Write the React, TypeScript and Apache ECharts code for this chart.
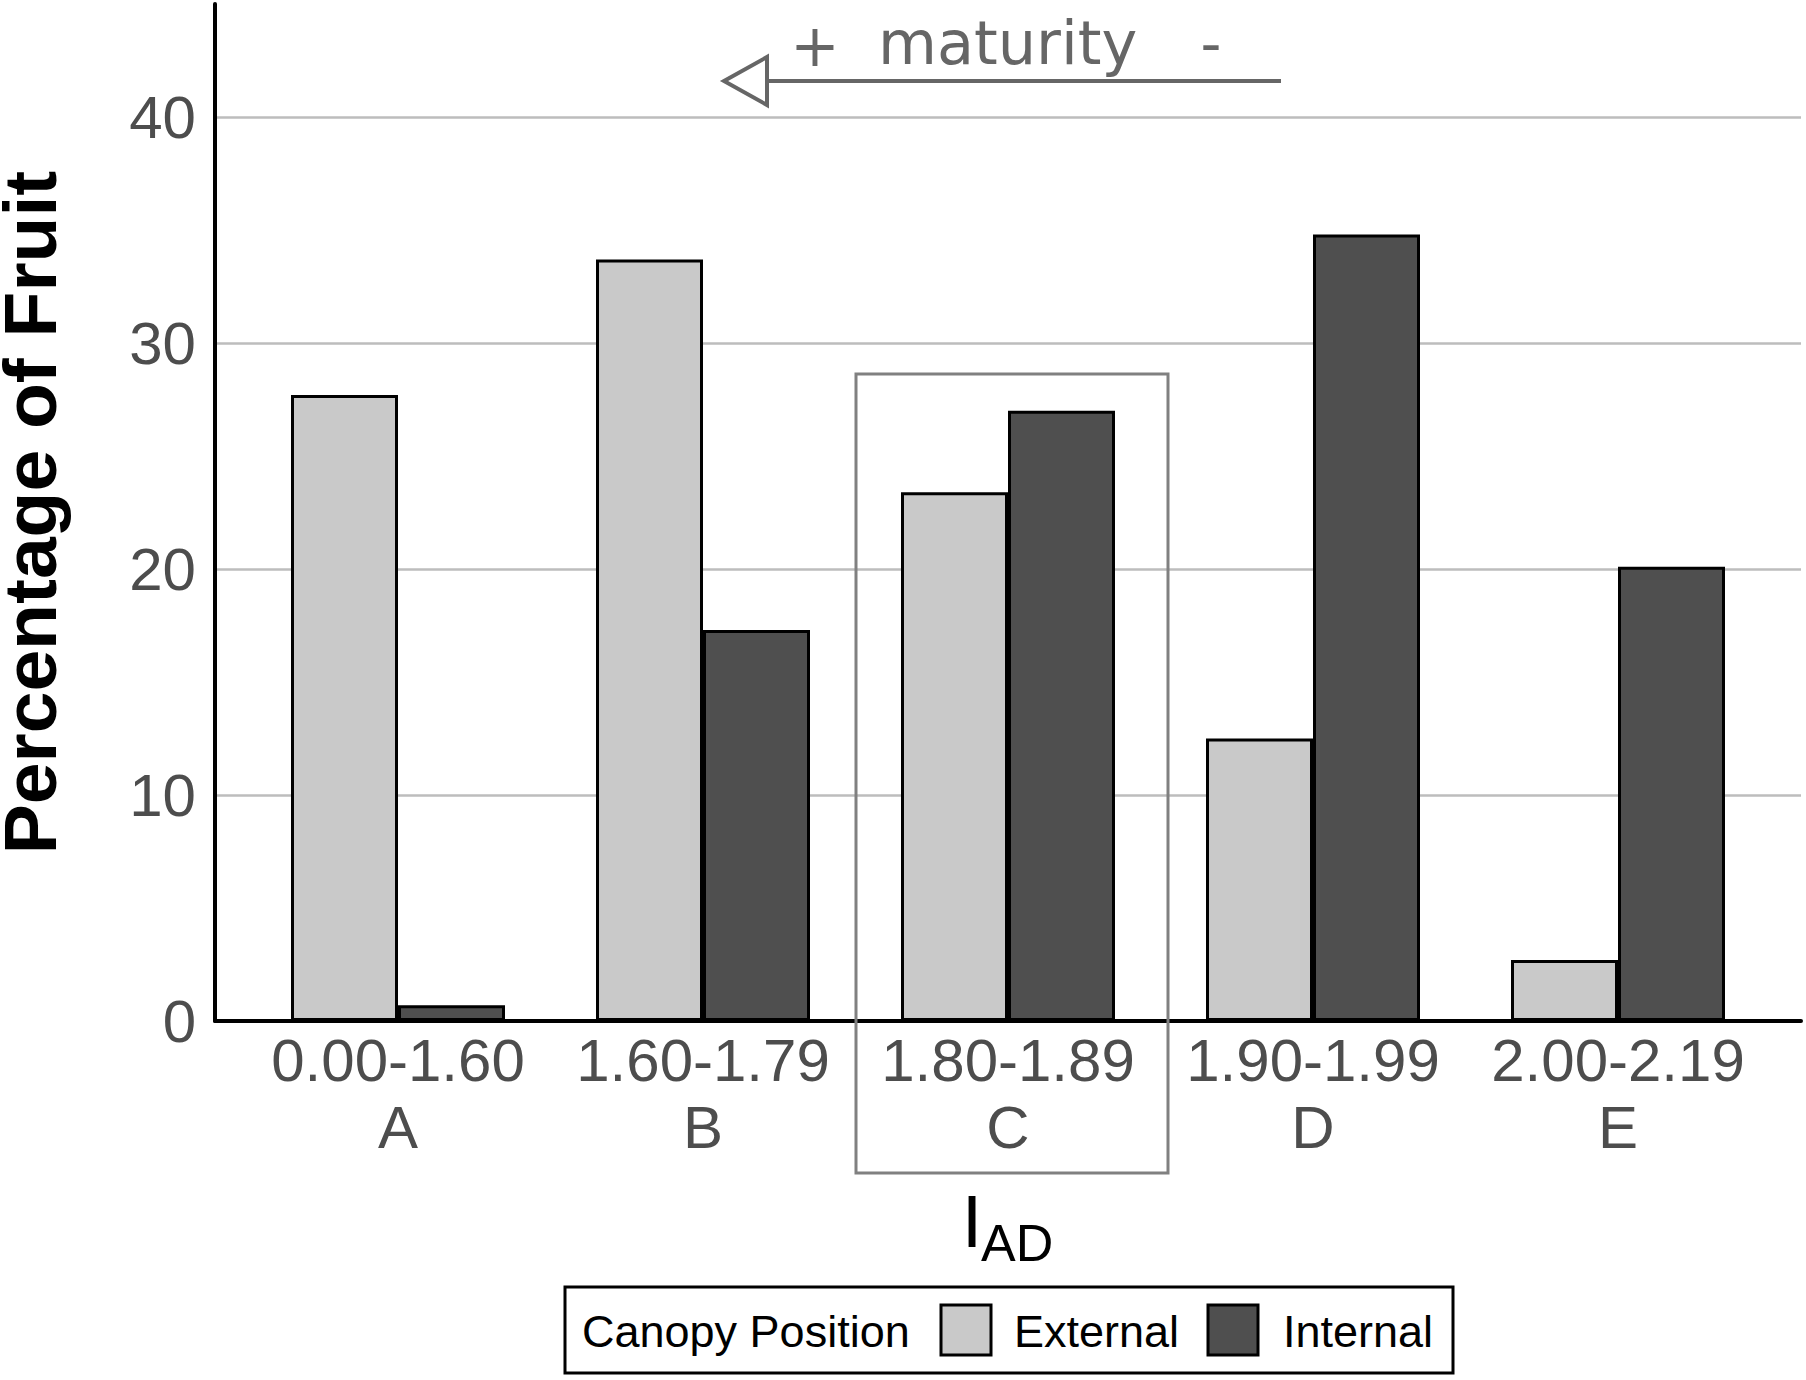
import React, { useEffect, useRef } from "react";
import * as echarts from "echarts";

const rangeLabels = ["0.00-1.60", "1.60-1.79", "1.80-1.89", "1.90-1.99", "2.00-2.19"];
const classLetters = ["A", "B", "C", "D", "E"];
const classPositions = [1, 2, 3, 4, 5];
const externalValues = [27.7, 33.7, 23.4, 12.5, 2.7];
const internalValues = [0.7, 17.3, 27.0, 34.8, 20.1];
const yTickValues = [0, 10, 20, 30, 40];
const seriesNames = ["External", "Internal"];
const legendTitle = "Canopy Position";
const yTitle = "Percentage of Fruit";
const arrowTexts = ["+", "maturity", "-"];

const SANS = "'Liberation Sans', Arial, sans-serif";
const DEJAVU = "'DejaVu Sans', sans-serif";
const EXT_COLOR = "#c9c9c9";
const INT_COLOR = "#4f4f4f";

export default function App() {
  const ref = useRef<HTMLDivElement>(null);

  useEffect(() => {
    if (!ref.current) return;
    const chart = echarts.init(ref.current, null, { renderer: "svg" });
    const barBorder = { borderColor: "#000", borderWidth: 3 };
    chart.setOption({
      animation: false,
      backgroundColor: "#fff",
      grid: { left: 215, right: 5, top: 4, bottom: 359, containLabel: false, outerBoundsMode: "none" },
      xAxis: {
        type: "value",
        min: 0.4,
        max: 5.6,
        axisLine: { show: true, onZero: true, lineStyle: { color: "#000", width: 4 } },
        axisTick: { show: false },
        splitLine: { show: false },
        axisLabel: {
          customValues: classPositions,
          formatter: (v: number) => {
            const i = Math.round(v) - 1;
            return `${rangeLabels[i]}\n${classLetters[i]}`;
          },
          fontFamily: SANS,
          fontSize: 60,
          lineHeight: 67,
          color: "#4d4d4d",
          margin: 6,
        },
      },
      yAxis: {
        type: "value",
        min: 0,
        max: 45,
        interval: 10,
        name: yTitle,
        nameLocation: "middle",
        nameGap: 145,
        nameRotate: 90,
        nameTextStyle: { fontFamily: SANS, fontSize: 75, fontWeight: "bold", color: "#000", lineHeight: 80 },
        axisLine: { show: true, lineStyle: { color: "#000", width: 4 } },
        axisTick: { show: false },
        axisLabel: {
          customValues: yTickValues,
          fontFamily: SANS,
          fontSize: 60,
          color: "#4d4d4d",
          margin: 19,
        },
        splitLine: {
          show: true,
          showMaxLine: false,
          lineStyle: { color: "#bdbdbd", width: 2.5 },
        },
      },
      series: [
        {
          name: seriesNames[0],
          type: "bar",
          barWidth: 107,
          barGap: "0%",
          itemStyle: { color: EXT_COLOR, ...barBorder },
          data: classPositions.map((p, i) => [p, externalValues[i]]),
        },
        {
          name: seriesNames[1],
          type: "bar",
          barWidth: 107,
          barGap: "0%",
          itemStyle: { color: INT_COLOR, ...barBorder },
          data: classPositions.map((p, i) => [p, internalValues[i]]),
        },
      ],
      graphic: [
        {
          type: "rect",
          shape: { x: 856, y: 374, width: 312, height: 799 },
          style: { fill: "none", stroke: "#808080", lineWidth: 3 },
          z: 10,
        },
        {
          type: "line",
          shape: { x1: 767, y1: 81, x2: 1281, y2: 81 },
          style: { stroke: "#666", lineWidth: 4 },
        },
        {
          type: "polygon",
          shape: { points: [[724, 81], [767, 57], [767, 105]] },
          style: { fill: "#fff", stroke: "#666", lineWidth: 4 },
        },
        {
          type: "text",
          x: 815,
          y: 45,
          style: { text: arrowTexts[0], font: `59px ${DEJAVU}`, fill: "#666", align: "center", verticalAlign: "middle" },
        },
        {
          type: "text",
          x: 878,
          y: 43,
          style: { text: arrowTexts[1], font: `60.5px ${DEJAVU}`, fill: "#666", align: "left", verticalAlign: "middle" },
        },
        {
          type: "text",
          x: 1211,
          y: 44,
          style: { text: arrowTexts[2], font: `58px ${DEJAVU}`, fill: "#666", align: "center", verticalAlign: "middle" },
        },
        {
          type: "text",
          x: 972,
          y: 1221,
          style: { text: "I", font: `74px ${SANS}`, fill: "#000", align: "center", verticalAlign: "middle" },
        },
        {
          type: "text",
          x: 981,
          y: 1243,
          style: { text: "AD", font: `52px ${SANS}`, fill: "#000", align: "left", verticalAlign: "middle" },
        },
        {
          type: "rect",
          shape: { x: 565, y: 1287, width: 888, height: 86 },
          style: { fill: "#fff", stroke: "#000", lineWidth: 3 },
        },
        {
          type: "text",
          x: 582,
          y: 1331,
          style: { text: legendTitle, font: `45px ${SANS}`, fill: "#000", align: "left", verticalAlign: "middle" },
        },
        {
          type: "rect",
          shape: { x: 941, y: 1305, width: 50, height: 50 },
          style: { fill: EXT_COLOR, stroke: "#000", lineWidth: 3 },
        },
        {
          type: "text",
          x: 1014,
          y: 1331,
          style: { text: seriesNames[0], font: `45px ${SANS}`, fill: "#000", align: "left", verticalAlign: "middle" },
        },
        {
          type: "rect",
          shape: { x: 1208, y: 1305, width: 50, height: 50 },
          style: { fill: INT_COLOR, stroke: "#000", lineWidth: 3 },
        },
        {
          type: "text",
          x: 1283,
          y: 1331,
          style: { text: seriesNames[1], font: `45px ${SANS}`, fill: "#000", align: "left", verticalAlign: "middle" },
        },
      ],
    });
    return () => chart.dispose();
  }, []);

  return (
    <div
      ref={ref}
      style={{ position: "absolute", left: 0, top: 0, width: 1806, height: 1380 }}
    />
  );
}
